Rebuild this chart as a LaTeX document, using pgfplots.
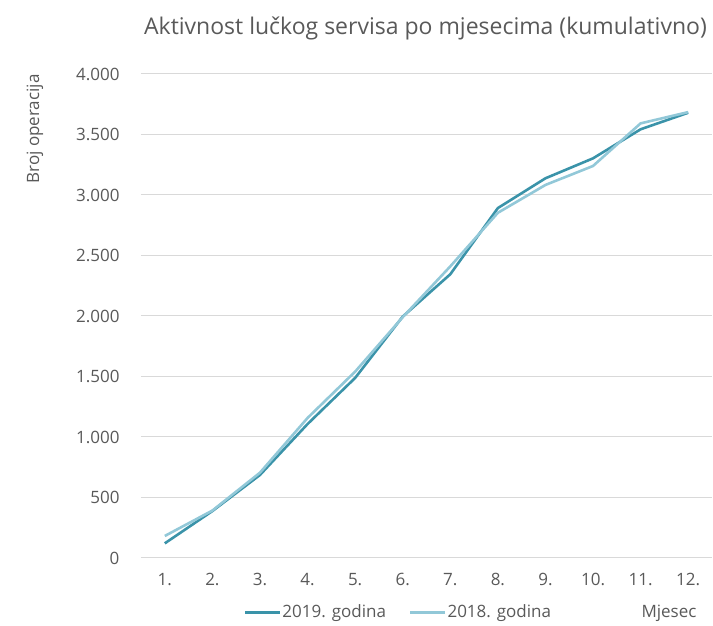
\documentclass[border=0pt]{standalone}
\usepackage{fontspec}
\setmainfont{Open Sans}
\usepackage{pgfplots}
\pgfplotsset{compat=1.18}
\definecolor{dark}{HTML}{3A93A9}
\definecolor{light}{HTML}{92C8D8}
\definecolor{gridgray}{HTML}{D9D9D9}
\definecolor{txt}{HTML}{595959}
\begin{document}
\begin{tikzpicture}
\begin{axis}[
  scale only axis, width=571pt, height=484pt,
  xmin=0.5, xmax=12.5, ymin=0, ymax=4000,
  axis line style={draw=none}, clip=false,
  ymajorgrids, grid style={draw=gridgray, line width=1pt},
  xtick={1,...,12},
  xticklabels={1.,2.,3.,4.,5.,6.,7.,8.,9.,10.,11.,12.},
  ytick={0,500,...,4000},
  major tick length=0pt,
  tick label style={font=\fontsize{17}{19}\selectfont, text=txt},
  yticklabel style={xshift=-18pt},
  xticklabel style={yshift=-12pt},
  /pgf/number format/.cd, 1000 sep={.}, assume math mode=true,
  /pgfplots/.cd,
  legend style={draw=none, fill=none, at={(rel axis cs:0.45,-0.112)}, anchor=center,
    font=\fontsize{17}{19}\selectfont, text=txt, legend columns=2,
    /tikz/every odd column/.append style={column sep=0pt},
    /tikz/every even column/.append style={column sep=22pt},
    nodes={inner xsep=1pt}},
  legend image code/.code={\draw[#1, line width=2.6pt] (0pt,0pt) -- (35pt,0pt);},
]
\addplot[dark, line width=2.6pt] coordinates
  {(1,121) (2,388) (3,686) (4,1107) (5,1488) (6,1995) (7,2345) (8,2892) (9,3138) (10,3303) (11,3543) (12,3680)};
\addplot[light, line width=2.6pt] coordinates
  {(1,182) (2,392) (3,705) (4,1157) (5,1540) (6,1990) (7,2410) (8,2853) (9,3083) (10,3240) (11,3592) (12,3685)};
\legend{2019. godina, 2018. godina}
\coordinate (bl) at (rel axis cs:0,0);
\coordinate (tr) at (rel axis cs:1,1);
\coordinate (tc) at (rel axis cs:0.5,1);
\coordinate (tl) at (rel axis cs:0,1);
\coordinate (br) at (rel axis cs:1,0);
\end{axis}
\node[font=\fontsize{23}{27}\selectfont, text=txt, anchor=base] at ([shift={(-1pt,39pt)}]tc) {Aktivnost lučkog servisa po mjesecima (kumulativno)};
\node[font=\fontsize{17}{19}\selectfont, text=txt, rotate=90, anchor=center] at ([shift={(-106pt,-55pt)}]tl) {Broj operacija};
\node[font=\fontsize{17}{19}\selectfont, text=txt, anchor=base east] at ([shift={(-12pt,-60pt)}]br) {Mjesec};
\pgfresetboundingbox
\path ([shift={(-141pt,-68pt)}]bl) rectangle ([shift={(1pt,74pt)}]tr);
\end{tikzpicture}
\end{document}
